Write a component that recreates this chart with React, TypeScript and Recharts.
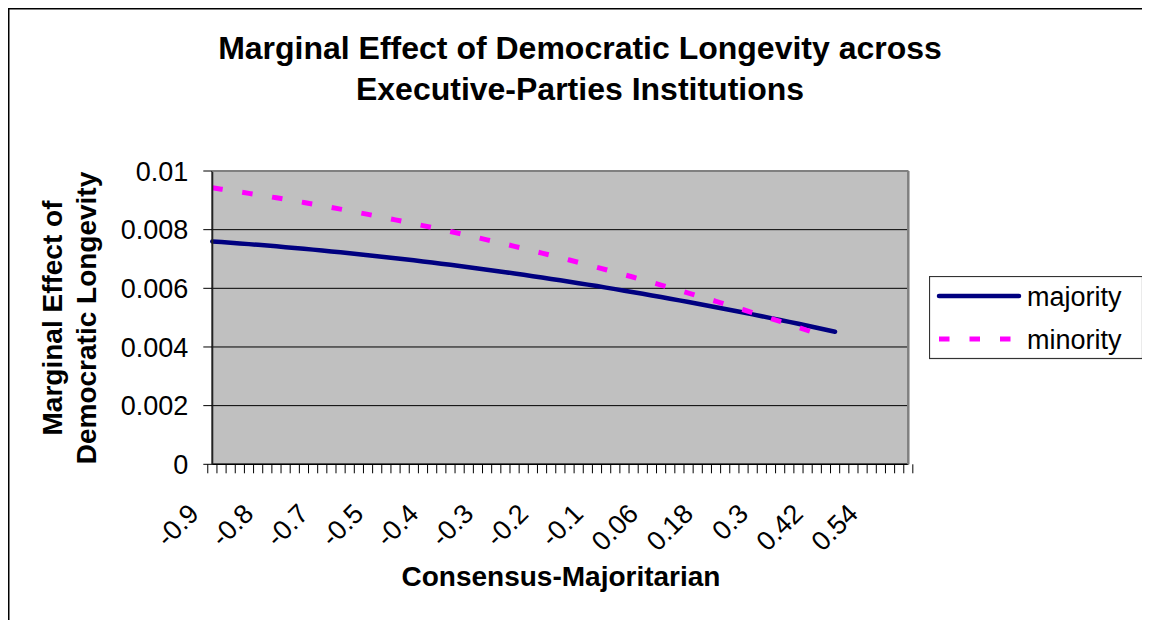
import React from "react";
import { LineChart, Line, XAxis, YAxis, CartesianGrid, Legend } from "recharts";

const FONT = "'Liberation Sans', Arial, Helvetica, sans-serif";

const categories = [
  "-0.9", "-0.88", "-0.86", "-0.84", "-0.82", "-0.8", "-0.78", "-0.76", "-0.74", "-0.72",
  "-0.7", "-0.68", "-0.66", "-0.64", "-0.62", "-0.6", "-0.58", "-0.56", "-0.54", "-0.52",
  "-0.5", "-0.48", "-0.46", "-0.44", "-0.42", "-0.4", "-0.38", "-0.36", "-0.34", "-0.32",
  "-0.3", "-0.28", "-0.26", "-0.24", "-0.22", "-0.2", "-0.18", "-0.16", "-0.14", "-0.12",
  "-0.1", "-0.08", "-0.06", "-0.04", "-0.02", "0", "0.02", "0.04", "0.06", "0.08",
  "0.1", "0.12", "0.14", "0.16", "0.18", "0.2", "0.22", "0.24", "0.26", "0.28",
  "0.3", "0.32", "0.34", "0.36", "0.38", "0.4", "0.42", "0.44", "0.46", "0.48",
  "0.5", "0.52", "0.54", "0.56", "0.58", "0.6", "0.62",
];

// shown every 6th category
const xTickLabels = ["-0.9", "-0.8", "-0.7", "-0.5", "-0.4", "-0.3", "-0.2", "-0.1", "0.06", "0.18", "0.3", "0.42", "0.54"];

const majority = [
  0.0076, 0.007578, 0.007555, 0.007532, 0.007507, 0.007483, 0.007457, 0.007431, 0.007404, 0.007376,
  0.007348, 0.007319, 0.007289, 0.007259, 0.007228, 0.007196, 0.007163, 0.00713, 0.007096, 0.007062,
  0.007026, 0.00699, 0.006954, 0.006916, 0.006878, 0.00684, 0.0068, 0.00676, 0.006719, 0.006678,
  0.006636, 0.006593, 0.006549, 0.006505, 0.00646, 0.006414, 0.006368, 0.006321, 0.006273, 0.006225,
  0.006176, 0.006126, 0.006076, 0.006024, 0.005972, 0.00592, 0.005867, 0.005813, 0.005758, 0.005703,
  0.005647, 0.00559, 0.005533, 0.005474, 0.005416, 0.005356, 0.005296, 0.005235, 0.005174, 0.005111,
  0.005048, 0.004985, 0.00492, 0.004855, 0.00479, 0.004723, 0.004656, 0.004588, 0.00452,
];

const minority = [
  0.009427, 0.009381, 0.009334, 0.009286, 0.009237, 0.009188, 0.009137, 0.009085, 0.009033, 0.00898,
  0.008926, 0.008871, 0.008815, 0.008758, 0.0087, 0.008641, 0.008582, 0.008521, 0.00846, 0.008397,
  0.008334, 0.00827, 0.008205, 0.008139, 0.008073, 0.008005, 0.007937, 0.007867, 0.007797, 0.007725,
  0.007653, 0.00758, 0.007506, 0.007431, 0.007356, 0.007279, 0.007202, 0.007123, 0.007044, 0.006964,
  0.006882, 0.0068, 0.006718, 0.006634, 0.006549, 0.006463, 0.006377, 0.006289, 0.006201, 0.006112,
  0.006022, 0.005931, 0.005839, 0.005746, 0.005652, 0.005558, 0.005462, 0.005366, 0.005269, 0.00517,
  0.005071, 0.004971, 0.00487, 0.004769, 0.004666, 0.004562, 0.004458,
];

const yTicks = [0, 0.002, 0.004, 0.006, 0.008, 0.01];
const yTickLabels = ["0", "0.002", "0.004", "0.006", "0.008", "0.01"];

const seriesNames = ["majority", "minority"];

const data = categories.map((c, i) => ({ x: c, majority: majority[i], minority: minority[i] }));

const W = 1150;
const H = 620;
const PLOT_LEFT = 212.3;
const PLOT_RIGHT = 908.3;
const PLOT_TOP = 171;
const PLOT_BOTTOM = 464.3;
const Y_AXIS_W = 100;
const X_AXIS_H = 100;
const BAND = (PLOT_RIGHT - PLOT_LEFT) / categories.length;

const XTick = (props: any) => {
  const { x, y, index } = props;
  const lx = x - BAND / 2;
  const isLast = index === categories.length - 1;
  const labelIdx = index % 6 === 0 ? index / 6 : -1;
  const label = labelIdx >= 0 && labelIdx < xTickLabels.length ? xTickLabels[labelIdx] : null;
  const ax = x - 12;
  const ay = y + 51;
  return (
    <g>
      <line x1={lx} x2={lx} y1={y} y2={y + 9} stroke="#000" strokeWidth={1} />
      {isLast && <line x1={x + BAND / 2} x2={x + BAND / 2} y1={y} y2={y + 9} stroke="#000" strokeWidth={1} />}
      {label && (
        <text
          x={ax}
          y={ay}
          textAnchor="end"
          transform={`rotate(-45, ${ax}, ${ay})`}
          fontSize={27}
          fontFamily={FONT}
          fill="#000"
        >
          {label}
        </text>
      )}
    </g>
  );
};

const LegendBox = () => (
  <svg width={215} height={84} style={{ display: "block" }}>
    <rect x={0.5} y={0.5} width={213} height={82} fill="#fff" stroke="#333" strokeWidth={1.2} />
    <line x1={10} x2={90} y1={20} y2={20} stroke="#000080" strokeWidth={4.5} strokeLinecap="round" />
    <text x={98} y={30} fontSize={27} fontFamily={FONT} fill="#000">{seriesNames[0]}</text>
    <line x1={10} x2={84} y1={63} y2={63} stroke="#FF00FF" strokeWidth={5} strokeDasharray="10.5 20" />
    <text x={98} y={73} fontSize={27} fontFamily={FONT} fill="#000">{seriesNames[1]}</text>
  </svg>
);

export default function App() {
  return (
    <div style={{ position: "relative", width: W, height: H, margin: "-8px 0 0 -8px", background: "#fff" }}>
      <LineChart
        width={W}
        height={H}
        data={data}
        margin={{
          top: PLOT_TOP,
          right: W - PLOT_RIGHT,
          bottom: H - PLOT_BOTTOM - X_AXIS_H,
          left: PLOT_LEFT - Y_AXIS_W,
        }}
      >
        <CartesianGrid vertical={false} stroke="#000" strokeWidth={1} fill="#C0C0C0" fillOpacity={1} />
        <XAxis
          dataKey="x"
          type="category"
          interval={0}
          height={X_AXIS_H}
          tickSize={0}
          tickMargin={0}
          tickLine={false}
          axisLine={{ stroke: "#000", strokeWidth: 1.5 }}
          tick={<XTick />}
          padding={{ left: 0, right: 0 }}
        />
        <YAxis
          type="number"
          domain={[0, 0.01]}
          ticks={yTicks}
          width={Y_AXIS_W}
          tickSize={9}
          tickMargin={15}
          interval={0}
          axisLine={{ stroke: "#222", strokeWidth: 2 }}
          tickLine={{ stroke: "#000", strokeWidth: 1 }}
          tick={{ fontSize: 27, fill: "#000", fontFamily: FONT }}
          tickFormatter={(v: number, i: number) => yTickLabels[i]}
        />
        <Line
          dataKey="majority"
          name={seriesNames[0]}
          type="linear"
          stroke="#000080"
          strokeWidth={4.5}
          strokeLinecap="round"
          dot={false}
          activeDot={false}
          isAnimationActive={false}
        />
        <Line
          dataKey="minority"
          name={seriesNames[1]}
          type="linear"
          stroke="#FF00FF"
          strokeWidth={5}
          strokeDasharray="10.5 19.74"
          strokeLinecap="butt"
          dot={false}
          activeDot={false}
          isAnimationActive={false}
        />
        <Legend
          layout="horizontal"
          verticalAlign="middle"
          align="center"
          wrapperStyle={{ left: 929, top: 276, width: 215, height: 84 }}
          content={<LegendBox />}
        />
      </LineChart>
      <svg
        width={W}
        height={H}
        style={{ position: "absolute", left: 0, top: 0, pointerEvents: "none" }}
      >
        <rect x={8} y={8} width={1.5} height={H - 8} fill="#000" />
        <rect x={8} y={8} width={W - 8} height={1.5} fill="#000" />
        <line x1={PLOT_LEFT} x2={PLOT_RIGHT} y1={PLOT_TOP} y2={PLOT_TOP} stroke="#808080" strokeWidth={2} />
        <line x1={PLOT_RIGHT} x2={PLOT_RIGHT} y1={PLOT_TOP} y2={PLOT_BOTTOM} stroke="#808080" strokeWidth={2.5} />
        <text x={580} y={59} textAnchor="middle" fontSize={32} fontWeight="bold" fontFamily={FONT} fill="#000">
          Marginal Effect of Democratic Longevity across
        </text>
        <text x={580} y={100} textAnchor="middle" fontSize={32} fontWeight="bold" fontFamily={FONT} fill="#000">
          Executive-Parties Institutions
        </text>
        <text x={561} y={586} textAnchor="middle" fontSize={28} fontWeight="bold" fontFamily={FONT} fill="#000">
          Consensus-Majoritarian
        </text>
        <text x={62} y={318} textAnchor="middle" transform="rotate(-90, 62, 318)" fontSize={28} fontWeight="bold" fontFamily={FONT} fill="#000">
          Marginal Effect of
        </text>
        <text x={96} y={318} textAnchor="middle" transform="rotate(-90, 96, 318)" fontSize={28} fontWeight="bold" fontFamily={FONT} fill="#000">
          Democratic Longevity
        </text>
      </svg>
    </div>
  );
}
